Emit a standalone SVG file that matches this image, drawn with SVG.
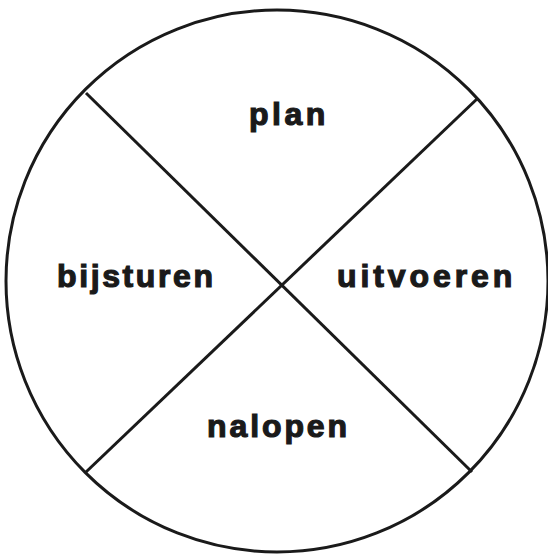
<svg xmlns="http://www.w3.org/2000/svg" width="548" height="554" viewBox="0 0 548 554">
<style>
.lbl{font-family:"Liberation Sans",Arial,sans-serif;font-weight:bold;font-size:32px;fill:#1a1a1a;stroke:#1a1a1a;stroke-width:1.2px;letter-spacing:3px}
.ln{stroke:#1a1a1a;stroke-width:3;fill:none}
</style>
<rect width="548" height="554" fill="#fff"/>
<g id="circle"><circle class="ln" cx="277" cy="281" r="271"/></g>
<g id="connectors">
<line class="ln" x1="86" y1="93" x2="472" y2="472"/>
<line class="ln" x1="478" y1="98" x2="86" y2="472"/>
</g>
<g id="plan"><text class="lbl" x="249" y="125" style="letter-spacing:3.5px">plan</text></g>
<g id="bijsturen"><text class="lbl" x="57" y="287" style="letter-spacing:2.6px">bijsturen</text></g>
<g id="uitvoeren"><text class="lbl" x="337" y="287" style="letter-spacing:3.9px">uitvoeren</text></g>
<g id="nalopen"><text class="lbl" x="207" y="437" style="letter-spacing:2.9px">nalopen</text></g>
</svg>
